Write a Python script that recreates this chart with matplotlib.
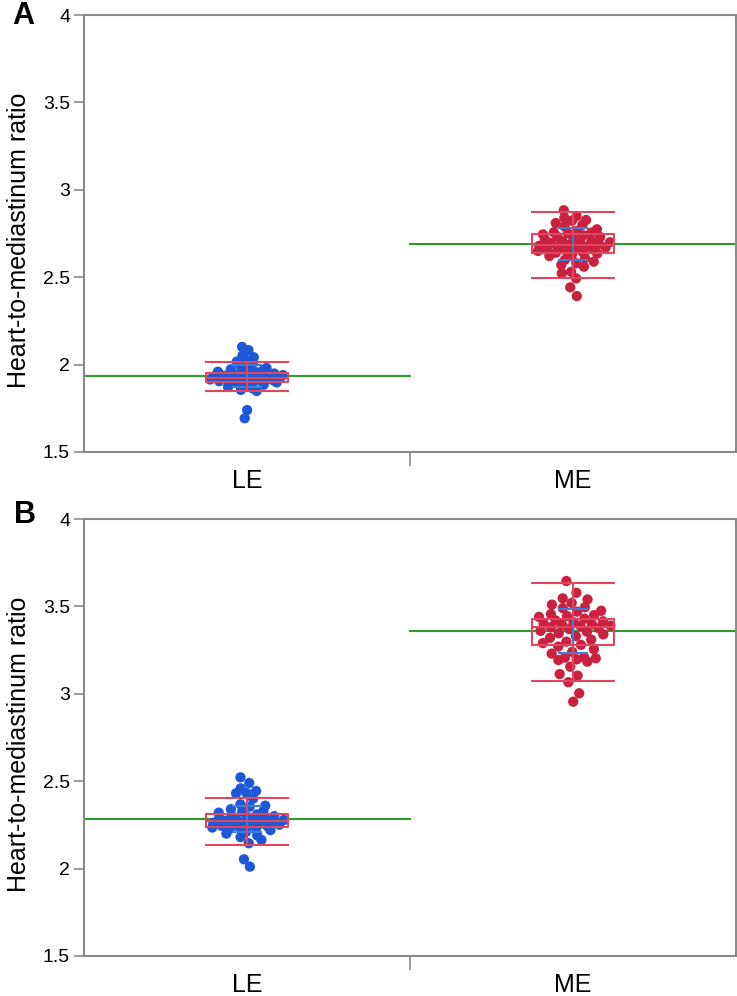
import numpy as np
import matplotlib
matplotlib.use("Agg")
import matplotlib.pyplot as plt
from matplotlib.ticker import FuncFormatter

plt.rcParams['font.family'] = ['Liberation Sans', 'DejaVu Sans']

groups = ["LE", "ME"]

# panel A - individual ratios
a_le = [2.101, 2.083, 2.051, 2.042, 2.025, 2.017, 2.008, 1.992, 1.981, 1.978,
        1.973, 1.968, 1.962, 1.959, 1.956, 1.952, 1.949, 1.947, 1.945, 1.944,
        1.942, 1.940, 1.938, 1.936, 1.934, 1.932, 1.930, 1.928, 1.926, 1.925,
        1.923, 1.921, 1.919, 1.917, 1.915, 1.913, 1.911, 1.909, 1.907, 1.905,
        1.903, 1.901, 1.898, 1.894, 1.890, 1.885, 1.878, 1.872, 1.864, 1.855,
        1.849, 1.740, 1.693]
a_me = [2.883, 2.850, 2.840, 2.827, 2.823, 2.810, 2.800, 2.790, 2.774, 2.764,
        2.757, 2.755, 2.750, 2.745, 2.740, 2.732, 2.730, 2.720, 2.715, 2.707,
        2.705, 2.700, 2.698, 2.695, 2.690, 2.685, 2.680, 2.675, 2.674, 2.670,
        2.665, 2.661, 2.658, 2.655, 2.650, 2.647, 2.640, 2.635, 2.630, 2.621,
        2.610, 2.600, 2.589, 2.580, 2.570, 2.560, 2.531, 2.522, 2.493, 2.442,
        2.392]

# panel B
b_le = [2.522, 2.490, 2.459, 2.444, 2.434, 2.431, 2.400, 2.368, 2.360, 2.354,
        2.340, 2.331, 2.325, 2.320, 2.310, 2.305, 2.300, 2.295, 2.290, 2.284,
        2.281, 2.278, 2.275, 2.272, 2.269, 2.265, 2.262, 2.259, 2.255, 2.251,
        2.249, 2.245, 2.242, 2.239, 2.235, 2.231, 2.228, 2.220, 2.210, 2.200,
        2.190, 2.180, 2.164, 2.145, 2.053, 2.011]
b_me = [3.645, 3.578, 3.546, 3.540, 3.520, 3.510, 3.495, 3.490, 3.475, 3.470,
        3.456, 3.450, 3.445, 3.440, 3.430, 3.420, 3.415, 3.410, 3.402, 3.398,
        3.395, 3.390, 3.388, 3.380, 3.375, 3.370, 3.360, 3.355, 3.346, 3.340,
        3.330, 3.320, 3.310, 3.298, 3.290, 3.280, 3.270, 3.255, 3.240, 3.230,
        3.209, 3.207, 3.203, 3.197, 3.193, 3.184, 3.155, 3.113, 3.104, 3.066,
        3.003, 2.955]

# summary lines (green mean, blue +/- sd, red box)
a_mean = [1.935, 2.690]
a_sd = [0.061, 0.089]
a_low = [1.849, 2.495]
a_q1 = [1.900, 2.638]
a_med = [1.925, 2.684]
a_q3 = [1.950, 2.747]
a_high = [2.015, 2.873]

b_mean = [2.284, 3.359]
b_sd = [0.072, 0.126]
b_low = [2.135, 3.073]
b_q1 = [2.238, 3.279]
b_med = [2.270, 3.380]
b_q3 = [2.312, 3.428]
b_high = [2.404, 3.634]

yticks = [1.5, 2, 2.5, 3, 3.5, 4]

BLUE = '#1f58d6'
RED = '#c9223f'
BOXRED = '#e2465e'
GREEN = '#2e9b2e'
SDBLUE = '#3a7fe0'
FRAME = '#8a8a8a'


def jitter(vals, width=0.12):
    # density based spread, deterministic (no randomness)
    v = np.asarray(vals, dtype=float)
    n = len(v)
    h = 0.9 * v.std() * n ** -0.2
    dens = np.exp(-0.5 * ((v[:, None] - v[None, :]) / h) ** 2).sum(axis=1)
    w = width * (dens / dens.max()) ** 0.8
    seq = ((np.arange(n) * 0.6180339887) % 1.0) * 2 - 1
    return w * seq


def draw_panel(ax, pts, mean, sd, low, q1, med, q3, high):
    cols = [BLUE, RED]
    for i, vals in enumerate(pts):
        # green group mean across the whole category
        ax.plot([i, i + 1], [mean[i], mean[i]], color=GREEN, lw=1.5, zorder=1)
        x = i + 0.5 + jitter(vals)
        ax.scatter(x, vals, s=55, color=cols[i], edgecolors='none', zorder=2)
        ax.errorbar([i + 0.5], [mean[i]], yerr=[sd[i]], fmt='none',
                    ecolor=SDBLUE, elinewidth=1.5, capsize=11, capthick=1.5,
                    zorder=3)
    stats = []
    for i in range(len(pts)):
        stats.append(dict(whislo=low[i], q1=q1[i], med=med[i], q3=q3[i],
                          whishi=high[i], fliers=[]))
    lp = dict(color=BOXRED, linewidth=1.5)
    ax.bxp(stats, positions=[0.5, 1.5], widths=0.25, capwidths=0.25,
           showfliers=False, boxprops=lp, whiskerprops=lp, capprops=lp,
           medianprops=lp, manage_ticks=False, zorder=4)

    ax.set_xlim(0, 2)
    ax.set_ylim(1.5, 4)
    ax.set_yticks(yticks)
    ax.yaxis.set_major_formatter(FuncFormatter(lambda v, p: ('%g' % v)))
    ax.set_xticks([0.5, 1.5])
    ax.set_xticklabels(groups, fontsize=18)
    ax.set_xticks([1], minor=True)
    ax.tick_params(axis='x', which='major', length=0, pad=12)
    ax.tick_params(axis='x', which='minor', length=10, width=1.2, color=FRAME)
    ax.tick_params(axis='y', length=7, width=1.2, color=FRAME, labelsize=14,
                   pad=3)
    for s in ax.spines.values():
        s.set_color(FRAME)
        s.set_linewidth(1.5)
    ax.set_ylabel("Heart-to-mediastinum ratio", fontsize=18)
    ax.yaxis.set_label_coords(-0.081, 0.485)


fig = plt.figure(figsize=(7.37, 9.96), dpi=100)
axA = fig.add_axes([84 / 737, 1 - 452 / 996, 652 / 737, 437 / 996])
axB = fig.add_axes([84 / 737, 1 - 956 / 996, 652 / 737, 437 / 996])

draw_panel(axA, [a_le, a_me], a_mean, a_sd, a_low, a_q1, a_med, a_q3, a_high)
draw_panel(axB, [b_le, b_me], b_mean, b_sd, b_low, b_q1, b_med, b_q3, b_high)

fig.text(23 / 737, 1 - 16 / 996, "A", fontsize=22, fontweight='bold',
         ha='center', va='center')
fig.text(25 / 737, 1 - 515 / 996, "B", fontsize=22, fontweight='bold',
         ha='center', va='center')

fig.savefig("out.png", dpi=100)
